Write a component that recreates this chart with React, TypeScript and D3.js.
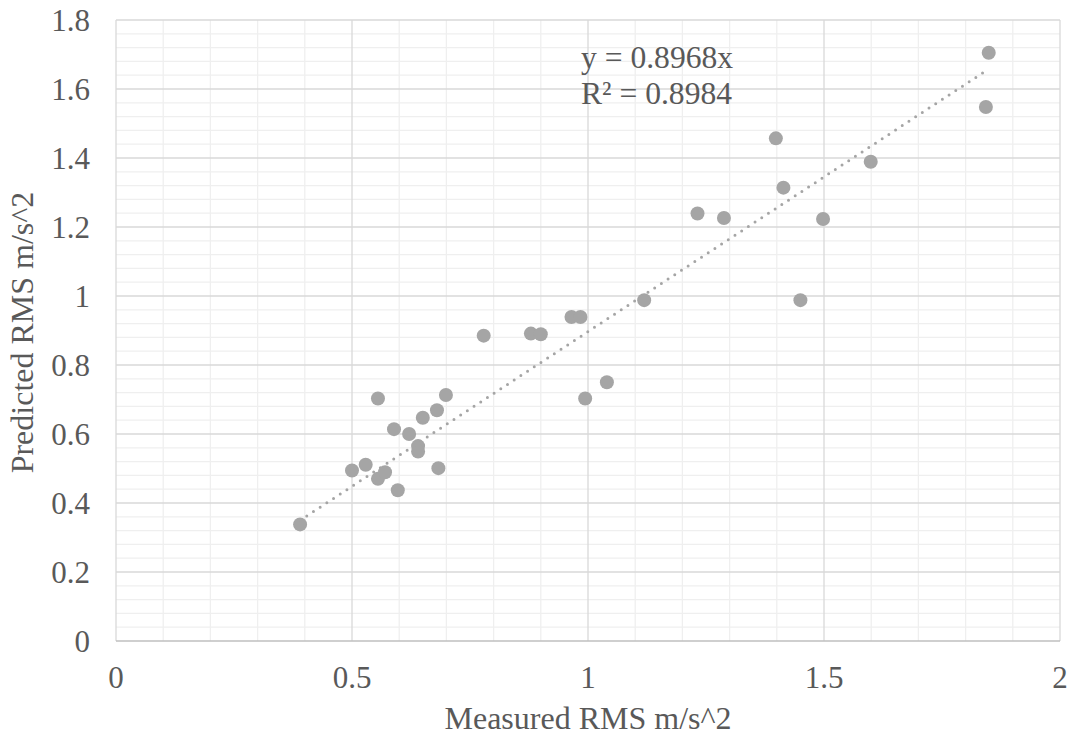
import React from "react";
import * as d3 from "d3";

const measured = [0.39, 0.5, 0.529, 0.555, 0.555, 0.57, 0.589, 0.597, 0.621, 0.64, 0.64, 0.65, 0.68, 0.683, 0.699, 0.779, 0.879, 0.9, 0.965, 0.984, 0.994, 1.04, 1.119, 1.232, 1.288, 1.398, 1.414, 1.45, 1.498, 1.599, 1.843, 1.849];
const predicted = [0.338, 0.494, 0.511, 0.703, 0.47, 0.489, 0.614, 0.437, 0.6, 0.565, 0.549, 0.647, 0.669, 0.501, 0.713, 0.885, 0.891, 0.889, 0.939, 0.939, 0.703, 0.75, 0.988, 1.239, 1.226, 1.457, 1.314, 0.988, 1.223, 1.389, 1.548, 1.705];
const xTicks = [0, 0.5, 1, 1.5, 2];
const yTicks = [0, 0.2, 0.4, 0.6, 0.8, 1, 1.2, 1.4, 1.6, 1.8];
const slope = 0.8968;
const equationLines = ["y = 0.8968x", "R² = 0.8984"];
const xTitle = "Measured RMS m/s^2";
const yTitle = "Predicted RMS m/s^2";

const W = 1075, H = 740;
const L = 116, R = 1060, T = 20, B = 641;
const FONT = "Liberation Serif, Times New Roman, DejaVu Serif, serif";
const TEXT = "#595959";
const MARK = "#a5a5a5";
const ts: React.CSSProperties = { fontFamily: FONT, fontSize: "31px" };
const tt: React.CSSProperties = { fontFamily: FONT, fontSize: "32px" };
const te: React.CSSProperties = { fontFamily: FONT, fontSize: "31.6px" };

export default function App() {
  const x = d3.scaleLinear().domain([0, 2]).range([L, R]);
  const y = d3.scaleLinear().domain([0, 1.8]).range([B, T]);

  const minorX = d3.range(0, 21).map((i) => i / 10).filter((v) => Math.round(v * 10) % 5 !== 0);
  const minorY = d3.range(0, 46).map((i) => i * 0.04).filter((v) => Math.round(v * 100) % 20 !== 0);

  const [xmin, xmax] = d3.extent(measured) as [number, number];
  const trend = d3.line<number>().x((v) => x(v)).y((v) => y(v * slope))([xmin, xmax]) || "";

  return (
    <svg width={W} height={H} style={{ position: "absolute", left: 0, top: 0, background: "#fff" }}>
      {minorX.map((v, i) => (
        <line key={"mx" + i} x1={x(v)} x2={x(v)} y1={T} y2={B} stroke="#efefef" strokeWidth={1.3} />
      ))}
      {minorY.map((v, i) => (
        <line key={"my" + i} x1={L} x2={R} y1={y(v)} y2={y(v)} stroke="#efefef" strokeWidth={1.3} />
      ))}
      {xTicks.map((v, i) => (
        <line key={"gx" + i} x1={x(v)} x2={x(v)} y1={T} y2={B} stroke="#d9d9d9" strokeWidth={1.3} />
      ))}
      {yTicks.filter((v) => v > 0).map((v, i) => (
        <line key={"gy" + i} x1={L} x2={R} y1={y(v)} y2={y(v)} stroke="#d9d9d9" strokeWidth={1.3} />
      ))}
      <line x1={L} x2={R} y1={B} y2={B} stroke="#bfbfbf" strokeWidth={1.5} />

      {measured.map((v, i) => (
        <circle key={"p" + i} cx={x(v)} cy={y(predicted[i])} r={7} fill={MARK} />
      ))}
      <path d={trend} stroke={MARK} strokeWidth={3} strokeDasharray="0 8" strokeLinecap="round" fill="none" />

      {yTicks.map((v, i) => (
        <text key={"yt" + i} x={90} y={y(v) + 10.5} textAnchor="end" style={ts} fill={TEXT}>
          {String(v)}
        </text>
      ))}
      {xTicks.map((v, i) => (
        <text key={"xt" + i} x={x(v)} y={688} textAnchor="middle" style={ts} fill={TEXT}>
          {String(v)}
        </text>
      ))}
      <text x={(L + R) / 2} y={729} textAnchor="middle" style={tt} fill={TEXT}>
        {xTitle}
      </text>
      <text transform={`translate(33, ${(T + B) / 2 + 2}) rotate(-90)`} textAnchor="middle" style={tt} fill={TEXT}>
        {yTitle}
      </text>
      {equationLines.map((s, i) => (
        <text key={"eq" + i} x={581} y={68 + i * 36} style={te} fill={TEXT}>
          {s}
        </text>
      ))}
    </svg>
  );
}
